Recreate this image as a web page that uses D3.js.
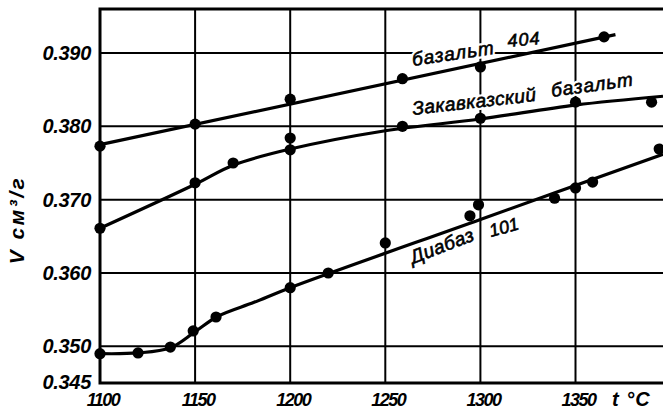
<!DOCTYPE html>
<html>
<head>
<meta charset="utf-8">
<script src="https://cdn.jsdelivr.net/npm/d3@7"></script>
<style>
  body { margin: 0; background: #fff; }
  svg { display: block; }
  text { font-family: "Liberation Sans", Arial, sans-serif; fill: #000; }
</style>
</head>
<body>
<svg id="chart" width="663" height="409"></svg>
<script>
// ---- data ----
const xTicks = [1100, 1150, 1200, 1250, 1300, 1350];
const yTicks = [0.350, 0.360, 0.370, 0.380, 0.390];
const yTickLabels = ["0.345", "0.350", "0.360", "0.370", "0.380", "0.390"];
const yLabelValues = [0.345, 0.350, 0.360, 0.370, 0.380, 0.390];

// базальт 404
const basaltDots = [[1100,0.3773],[1150,0.3803],[1200,0.3837],[1259,0.3865],[1300,0.3881],[1365,0.3922]];
const basaltLine = [[1100,0.3775],[1371,0.3925]];

// Закавказский базальт
const zakDots = [[1100,0.3661],[1150,0.3723],[1170,0.3750],[1200,0.3768],[1200,0.3784],[1259,0.3800],[1300,0.3811],[1350,0.3833],[1390,0.3833]];
const zakLine = [[1100,0.3661],[1150,0.3721],[1170,0.3747],[1200,0.3769],[1250,0.3794],[1300,0.3810],[1350,0.3829],[1396,0.3841]];

// Диабаз 101
const diaDots = [[1100,0.3490],[1120,0.3491],[1137,0.3499],[1149,0.3521],[1161,0.3540],[1200,0.3580],[1220,0.3600],[1250,0.3641],[1294.5,0.3678],[1299,0.3693],[1339,0.3702],[1350,0.3716],[1359,0.3724],[1394,0.3769]];
const diaLine = [[1100,0.3490],[1120,0.3491],[1137,0.3498],[1150,0.3520],[1162,0.3541],[1181,0.3560],[1200,0.3580],[1300,0.3673],[1396,0.3762]];

// ---- drawing ----
const svg = d3.select("#chart");
const x = d3.scaleLinear().domain([1100, 1396]).range([100, 663]);
const y = d3.scaleLinear().domain([0.345, 0.396]).range([383, 9]);

// grid
const grid = svg.append("g").attr("stroke", "#000").attr("stroke-width", 2);
grid.selectAll("line.v").data(xTicks.slice(1)).join("line")
  .attr("x1", d => x(d)).attr("x2", d => x(d))
  .attr("y1", y.range()[1]).attr("y2", y.range()[0]);
grid.selectAll("line.h").data(yTicks).join("line")
  .attr("x1", x.range()[0]).attr("x2", x.range()[1])
  .attr("y1", d => y(d)).attr("y2", d => y(d));

// frame: left, bottom, top
const frame = svg.append("g").attr("stroke", "#000").attr("stroke-width", 3).attr("fill", "none");
frame.append("path").attr("d",
  `M${x.range()[1]},${y.range()[1]} H${x.range()[0]} V${y.range()[0]} H${x.range()[1]}`);

// curve labels with white halo (gaps in grid)
function label(txt, px, py, rot, size, ls) {
  const t = `translate(${px},${py}) rotate(${rot})`;
  svg.append("text").attr("transform", t)
    .attr("font-size", size).attr("font-style", "italic").attr("letter-spacing", ls || 0)
    .attr("stroke", "#fff").attr("stroke-width", 5).style("fill", "#fff")
    .text(txt);
  svg.append("text").attr("transform", t)
    .attr("font-size", size).attr("font-style", "italic").attr("letter-spacing", ls || 0)
    .attr("stroke", "#000").attr("stroke-width", 0.6).style("fill", "#000")
    .text(txt);
}
label("базальт", 413, 66, -8.5, 19, 1);
label("404", 508, 47, -5, 18, 1);
label("Закавказский", 413, 115, -6.5, 19, 0.5);
label("базальт", 552, 97, -8, 19, 1);
label("Диабаз", 413, 264, -21, 19, 0.5);
label("101", 491, 237, -15, 18, 0);

// lines
const line = d3.line().x(d => x(d[0])).y(d => y(d[1])).curve(d3.curveCatmullRom.alpha(0.5));
[basaltLine, zakLine, diaLine].forEach(pts => {
  svg.append("path").datum(pts).attr("d", line)
    .attr("fill", "none").attr("stroke", "#000").attr("stroke-width", 3.2)
    .attr("stroke-linejoin", "round");
});

// dots
[basaltDots, zakDots, diaDots].forEach(pts => {
  svg.append("g").selectAll("circle").data(pts).join("circle")
    .attr("cx", d => x(d[0])).attr("cy", d => y(d[1])).attr("r", 5.6).attr("fill", "#000");
});

// y tick labels
svg.append("g").selectAll("text").data(yLabelValues).join("text")
  .attr("x", 91)
  .attr("y", (d, i) => d === 0.345 ? 389 : y(d) + 7)
  .attr("text-anchor", "end")
  .attr("font-size", 20).attr("font-weight", "bold").attr("font-style", "italic")
  .attr("letter-spacing", -0.3)
  .text((d, i) => yTickLabels[i]);

// x tick labels
svg.append("g").selectAll("text").data(xTicks).join("text")
  .attr("x", d => x(d) + 3)
  .attr("y", 406)
  .attr("text-anchor", "middle")
  .attr("font-size", 18).attr("font-weight", "bold").attr("font-style", "italic")
  .attr("letter-spacing", -1.5)
  .text(d => d);

// x axis title
svg.append("text").attr("x", 612).attr("y", 406)
  .attr("font-size", 20).attr("font-weight", "bold").attr("font-style", "italic")
  .attr("letter-spacing", 1)
  .text("t °C");

// y axis title
svg.append("text")
  .attr("transform", "translate(24,220) rotate(-90)")
  .attr("text-anchor", "middle")
  .attr("font-size", 21).attr("font-weight", "bold").attr("font-style", "italic")
  .attr("letter-spacing", 2.5)
  .text("V см³/г");
</script>
</body>
</html>
